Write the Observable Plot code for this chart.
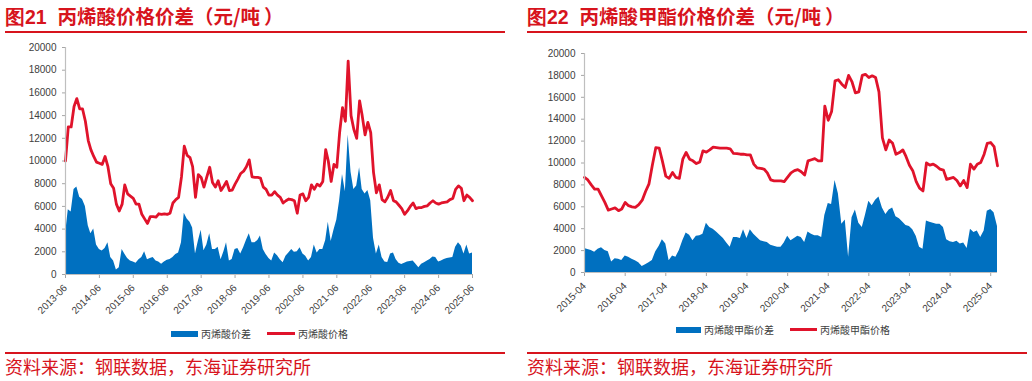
<!DOCTYPE html>
<html>
<head>
<meta charset="utf-8">
<script src="https://cdn.jsdelivr.net/npm/d3@7"></script>
<script src="https://cdn.jsdelivr.net/npm/@observablehq/plot@0.6"></script>
<style>
  html, body { margin: 0; padding: 0; background: #fff; }
  body { width: 1032px; height: 381px; position: relative; overflow: hidden;
         font-family: "Liberation Sans", "Noto Sans CJK SC", sans-serif; }
  .title { position: absolute; top: 1px; font-size: 19.5px; font-weight: bold; color: #d7141d;
           font-family: "Liberation Sans", sans-serif; white-space: pre; }
  .title .cjk { font-family: "Noto Sans CJK SC", sans-serif; }
  .title .po { display: inline-block; width: 19.5px; }
  .title .pc { display: inline-block; width: 19.5px; position: relative; left: 4px; }
  .hline { position: absolute; height: 1.5px; background: #d7141d; }
  .source { position: absolute; font-size: 18px; color: #d7141d; white-space: nowrap;
            font-family: "Noto Sans CJK SC", sans-serif; line-height: 22px; }
  .chart { position: absolute; top: 35px; }
  .legend { position: absolute; display: flex; align-items: center; font-size: 10px; color: #404040;
            font-family: "Noto Sans CJK SC", sans-serif; white-space: nowrap; }
  .sw { display: inline-block; margin-right: 3px; }
  svg g[aria-label="x-axis tick"] path, svg g[aria-label="y-axis tick"] path { stroke: #a6a6a6; }
</style>
</head>
<body>
<script>
// ---------- data ----------
const leftStart = "2013-06";
const leftTicks = ["2013-06","2014-06","2015-06","2016-06","2017-06","2018-06","2019-06","2020-06","2021-06","2022-06","2023-06","2024-06","2025-06"];
const leftPrice = [
  10000,13000,13000,14800,15500,14600,14600,13500,11800,11000,
  10400,9900,9800,9700,10400,9500,8000,7600,6200,5600,
  6200,7900,7100,6900,6700,6200,6200,5300,4900,4500,
  5100,5100,5050,5350,5300,5350,5300,5400,6300,6600,
  6800,8600,11300,10500,10300,9500,6800,8800,8550,7700,
  8600,9450,8100,7700,8260,7400,7800,8200,7400,7430,
  7960,8400,8900,9100,9500,10100,8600,8550,8550,8500,
  7700,7500,7000,7000,7300,7000,6800,6300,6500,6650,
  6600,6500,5400,7000,7100,6500,6800,7900,7500,7960,
  7800,8200,11000,10000,8200,9700,9450,12500,14700,13500,
  18800,14000,12800,12000,15300,14000,12300,13400,12500,9000,
  7200,7900,6600,6400,6800,7400,6500,6400,6100,5800,
  5300,5600,6000,6300,5800,5900,5900,6000,6050,6300,
  6500,6300,6200,6300,6350,6400,6600,6700,7500,7800,
  7600,6500,7000,6800,6500
];
const leftSpread = [
  3500,5700,5500,7500,7700,6800,6600,6000,4300,3600,
  4000,2600,2200,2060,2300,2800,1500,1200,400,600,
  2200,1800,1400,1200,1100,1000,1300,1500,2000,1300,
  1400,1500,1200,1100,900,1100,1250,1330,1500,1770,
  1900,2800,5400,4900,4600,4100,1800,2900,3900,2100,
  2600,3600,2200,2200,2400,1300,2000,2800,1200,1330,
  2200,2300,1800,2360,3000,3600,2800,2800,3000,3400,
  2200,1770,1400,1180,1900,1650,1300,1030,1600,1900,
  2200,1950,2000,2360,1800,1600,1200,1500,2600,1900,
  2200,2200,3000,4600,2900,3900,4800,6500,8800,7300,
  12300,9000,7500,7800,9400,7500,7100,7400,6500,3200,
  1800,2600,1500,1100,1050,1800,1900,1330,1000,880,
  1000,1100,1150,1180,900,600,900,1030,1200,1330,
  1550,1500,1100,1200,1330,1400,1450,1500,2400,2800,
  2500,1800,2600,1800,1900
];

const rightStart = "2015-04";
const rightTicks = ["2015-04","2016-04","2017-04","2018-04","2019-04","2020-04","2021-04","2022-04","2023-04","2024-04","2025-04"];
const rightPrice = [
  8680,8450,8000,7610,7610,7000,6400,5700,5800,5900,
  5650,5800,6400,6100,6000,5950,6200,6600,7400,8100,
  9800,11400,11350,10200,8800,8600,9130,8680,8600,10350,
  10960,10350,10200,9950,10100,11100,11000,11200,11450,11400,
  11350,11350,11350,11300,10870,10850,10800,10800,10750,10750,
  9900,9550,9500,9450,9100,8450,8370,8370,8370,8300,
  8700,9100,9300,9400,9200,8900,10200,10300,10400,10200,
  10200,15200,13900,14700,17500,17600,17200,16900,18000,17400,
  16400,16500,18000,18100,17800,17960,17800,16500,12300,11200,
  12100,11800,10800,10950,11200,10600,9800,9300,8300,7700,
  7450,10000,9800,9900,9700,9440,9350,8500,8600,8680,
  8400,7910,8400,7760,9890,9440,9890,10050,10800,11800,
  11870,11500,9740
];
const rightSpread = [
  2200,2100,2000,1850,2130,2250,2000,1900,950,1250,
  1220,1100,1500,1400,1200,1070,900,550,700,900,
  1100,1900,2400,3000,2600,1070,1500,1400,2000,2900,
  3600,3400,2900,3300,3350,3500,4500,4100,3950,3700,
  3400,3100,2700,2300,3200,3200,3100,3900,3100,3900,
  3500,3200,2900,2800,2750,2500,2400,2300,2300,2700,
  3300,2900,3100,3300,3200,2750,3700,3500,3350,3350,
  3200,5200,6300,6200,8400,7200,4400,4800,1400,5000,
  5700,4500,4100,5200,6500,6100,6600,6900,5900,5300,
  5700,5900,5100,4900,4600,4300,4200,3900,3300,2300,
  2130,4700,4600,4500,4400,4400,4100,3000,2800,2750,
  2850,2600,2700,2200,3960,3650,3800,3200,3800,5600,
  5750,5450,4200
];

const yTicks = [0,2000,4000,6000,8000,10000,12000,14000,16000,18000,20000];

const leftTitleParts = ["图21  ", "丙烯酸价格价差", "（", "元/吨", "）"];
const rightTitleParts = ["图22  ", "丙烯酸甲酯价格价差", "（", "元/吨", "）"];
const leftLegend = ["丙烯酸价差", "丙烯酸价格"];
const rightLegend = ["丙烯酸甲酯价差", "丙烯酸甲酯价格"];
const sourceText = "资料来源：钢联数据，东海证券研究所";

// ---------- styles ----------
const BLUE = "#0070c0";
const RED = "#e0132b";
const AXIS = "#bfbfbf";
const parse = d3.utcParse("%Y-%m");
const fmt = d3.utcFormat("%Y-%m");

function rows(start, price, spread) {
  const s = parse(start);
  return price.map((p, i) => ({date: d3.utcMonth.offset(s, i), price: p, spread: spread[i]}));
}

function makeChart(data, ticks, domainEnd, opts) {
  const x0 = parse(ticks[0]);
  return Plot.plot({
    width: 516,
    height: opts.height,
    marginLeft: opts.marginLeft,
    marginRight: opts.marginRight,
    marginTop: opts.marginTop,
    marginBottom: 46,
    style: {fontFamily: "'Liberation Sans', Arial, sans-serif", fontSize: "10px", color: "#404040", background: "transparent", overflow: "visible"},
    x: {type: "utc", domain: [x0, domainEnd], ticks: ticks.map(parse), tickFormat: fmt, tickRotate: -45, label: null, tickSize: 4},
    y: {domain: [0, 20000], ticks: yTicks, tickFormat: d3.format("d"), label: null, tickSize: 3, tickPadding: 6},
    marks: [
      Plot.areaY(data, {x: "date", y: "spread", fill: BLUE, curve: "linear"}),
      Plot.lineY(data, {x: "date", y: "price", stroke: RED, strokeWidth: 2.8, curve: "linear"}),
      Plot.ruleY([0], {stroke: AXIS, strokeWidth: 1.2}),
      Plot.ruleX([x0], {stroke: AXIS, strokeWidth: 1.2})
    ]
  });
}

function addDiv(cls, style, text) {
  const d = document.createElement("div");
  d.className = cls;
  Object.assign(d.style, style);
  if (text != null) d.textContent = text;
  document.body.appendChild(d);
  return d;
}

function span(parent, cls, txt) {
  const s = document.createElement("span");
  if (cls) s.className = cls;
  s.textContent = txt;
  parent.appendChild(s);
  return s;
}

function title(left, parts) {
  const t = addDiv("title", {left: left + "px"});
  span(t, "", parts[0]);
  const c = span(t, "cjk", "");
  span(c, "", parts[1]);
  span(c, "po", parts[2]);
  span(c, "", parts[3]);
  span(c, "pc", parts[4]);
}

function legend(left, top, labels, w1, w2) {
  const lg = addDiv("legend", {left: left + "px", top: top + "px"});
  lg.innerHTML =
    `<span class="sw" style="width:${w1}px;height:6px;background:${BLUE}"></span><span style="margin-right:16px">${labels[0]}</span>` +
    `<span class="sw" style="width:${w2}px;height:3px;background:${RED}"></span><span>${labels[1]}</span>`;
}

// ---------- left panel ----------
title(5, leftTitleParts);
addDiv("hline", {left: "5px", top: "31px", width: "500px"});
const lc = makeChart(rows(leftStart, leftPrice, leftSpread), leftTicks, parse("2025-06"),
  {height: 285, marginLeft: 65, marginRight: 44, marginTop: 12});
const lw = addDiv("chart", {left: "0px"});
lw.appendChild(lc);
legend(171, 326, leftLegend, 27, 28);
addDiv("hline", {left: "5px", top: "352px", width: "500px"});
addDiv("source", {left: "5px", top: "355px"}, sourceText);

// ---------- right panel ----------
title(527, rightTitleParts);
addDiv("hline", {left: "527px", top: "31px", width: "500px"});
const rc = makeChart(rows(rightStart, rightPrice, rightSpread), rightTicks, parse("2025-06"),
  {height: 283, marginLeft: 68, marginRight: 35, marginTop: 18});
const rw = addDiv("chart", {left: "516px"});
rw.appendChild(rc);
legend(676, 322, rightLegend, 25, 27);
addDiv("hline", {left: "527px", top: "352px", width: "500px"});
addDiv("source", {left: "527px", top: "355px"}, sourceText);
</script>
</body>
</html>
